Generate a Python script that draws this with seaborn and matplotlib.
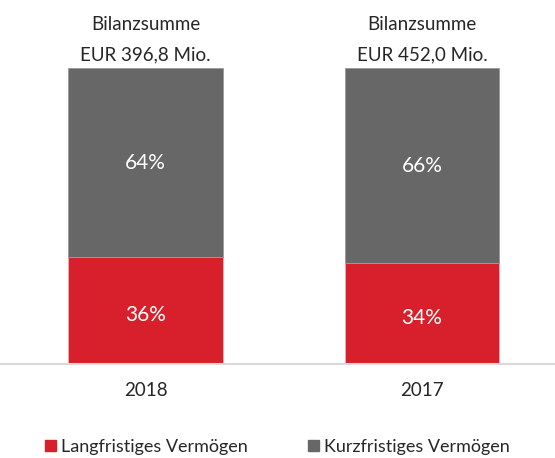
import seaborn as sns
import matplotlib.pyplot as plt
import pandas as pd
from matplotlib.patches import Patch

years = ["2018", "2017"]
langfristig = [36, 34]
kurzfristig = [64, 66]
bilanzsumme = ["EUR 396,8 Mio.", "EUR 452,0 Mio."]

red = "#D7202B"
grey = "#676767"

sns.set_style("white")
plt.rcParams['font.family'] = ['Lato', 'DejaVu Sans']

df = pd.DataFrame({"jahr": years, "lang": langfristig, "kurz": kurzfristig})

fig = plt.figure(figsize=(5.55, 4.58), dpi=100)
ax = fig.add_axes([0, 94 / 458, 1, 296 / 458])

sns.barplot(data=df, x="jahr", y="lang", color=red, saturation=1, width=0.56,
            edgecolor="#f0b0b4", linewidth=0.6, ax=ax)
sns.barplot(data=df, x="jahr", y="kurz", bottom=df["lang"], color=grey, saturation=1,
            width=0.56, edgecolor="#9a9a9a", linewidth=0.6, ax=ax)

ax.set_xlim(-145.5 / 276.5, (555 - 145.5) / 276.5)
ax.set_ylim(0, 100)

for i, (l, k) in enumerate(zip(langfristig, kurzfristig)):
    ax.text(i, l / 2 - 1.5, f"{l}%", ha="center", va="center", color="white", fontsize=15)
    ax.text(i, l + k / 2, f"{k}%", ha="center", va="center", color="white", fontsize=15)
    ax.annotate("Bilanzsumme", (i, 100), xytext=(0, 31), textcoords="offset points",
                ha="center", va="center", fontsize=13.5)
    ax.annotate(bilanzsumme[i], (i, 100), xytext=(0, 9.5), textcoords="offset points",
                ha="center", va="center", fontsize=13.5)

sns.despine(ax=ax, left=True, top=True, right=True)
ax.spines["bottom"].set_color("#d9d9d9")
ax.spines["bottom"].set_linewidth(1.5)
ax.set_yticks([])
ax.set_xlabel("")
ax.set_ylabel("")
ax.tick_params(axis="x", length=0, pad=13, labelsize=13.5)

handles = [Patch(color=red, label="Langfristiges Vermögen"),
           Patch(color=grey, label="Kurzfristiges Vermögen")]
fig.legend(handles=handles, loc="center", bbox_to_anchor=(0.5, 11 / 458), ncol=2,
           frameon=False, fontsize=13, handlelength=0.6, handleheight=0.6,
           handletextpad=0.3, columnspacing=3.3, borderaxespad=0)

fig.savefig("out.png", dpi=100)
